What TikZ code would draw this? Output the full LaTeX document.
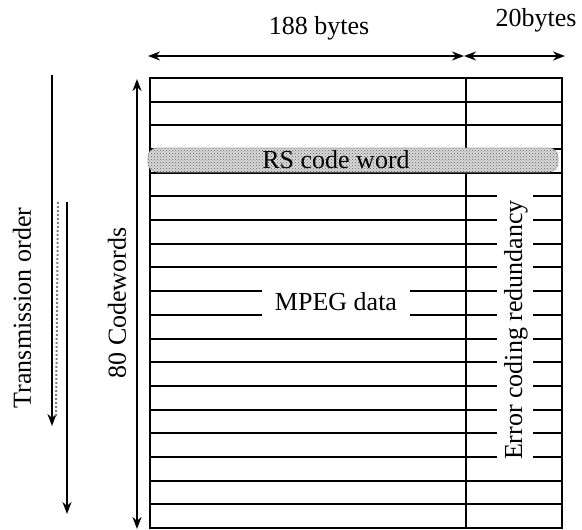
\documentclass[tikz,border=0pt]{standalone}
\usepackage{fontspec}
\setmainfont{Liberation Serif}
\usetikzlibrary{arrows.meta,patterns}
\begin{document}
\begin{tikzpicture}[x=1pt,y=-1pt,
  grid/.style={line width=2pt},
  arr/.style={line width=1.8pt,-{Stealth[length=12pt,width=9pt]}},
  darr/.style={line width=1.8pt,{Stealth[length=12pt,width=9pt]}-{Stealth[length=12pt,width=9pt]}},
  lab/.style={font=\fontsize{26}{30}\selectfont,inner sep=0pt},
  band/.style={fill=gray!30,draw=gray!70,line width=0.6pt,rounded corners=9pt},
  bandtex/.style={pattern=crosshatch dots,pattern color=gray!75!black,rounded corners=9pt}]
\useasboundingbox (0,0) rectangle (582,530);
\def\rh{23.684}
% outer frame and divider
\draw[grid] (150,78) rectangle (562,528);
\draw[grid] (466,78) -- (466,528);
% full row lines
\foreach \i in {1,2,3,4,17,18} {
  \draw[grid] (150,78+\i*\rh) -- (562,78+\i*\rh);
}
% rows 5..16: error column broken around the text
\foreach \i in {5,...,16} {
  \draw[grid] (466,78+\i*\rh) -- (497,78+\i*\rh);
  \draw[grid] (533,78+\i*\rh) -- (562,78+\i*\rh);
}
\foreach \i in {5,6,7,8,11,12,13,14,15,16} {
  \draw[grid] (150,78+\i*\rh) -- (466,78+\i*\rh);
}
\foreach \i in {9,10} {
  \draw[grid] (150,78+\i*\rh) -- (262,78+\i*\rh);
  \draw[grid] (410,78+\i*\rh) -- (466,78+\i*\rh);
}
% RS code word band
\draw[band] (148,148) rectangle (558,172);
\fill[bandtex] (148,148) rectangle (558,172);
\node[lab] (rs) at (336,160) {RS code word};
% labels
\node[lab] (mpeg) at (336,302) {MPEG data};
\node[lab,rotate=90] (ecr) at (516,330) {Error coding redundancy};
\node[lab,rotate=90] (cw) at (117,303) {80 Codewords};
\node[lab,rotate=90] (tx) at (22,308) {Transmission order};
\node[lab] (b188) at (319,28) {188 bytes};
\node[lab] (b20) at (536,20) {20bytes};
% width arrows
\coordinate (h0) at (148,56);
\coordinate (h1) at (464,56);
\coordinate (h2) at (565,56);
\draw[darr] (h0) -- (h1);
\draw[darr] (h1) -- (h2);
% codeword arrow
\coordinate (v0) at (137,79);
\coordinate (v1) at (137,529);
\draw[darr] (v0) -- (v1);
% transmission order arrows
\coordinate (t0) at (52,75);
\coordinate (t1) at (52,426);
\draw[arr] (t0) -- (t1);
\coordinate (d0) at (58,202);
\coordinate (d1) at (56,418);
\draw[gray,line width=2pt,dotted] (d0) -- (d1);
\coordinate (s0) at (67,202);
\coordinate (s1) at (67,514);
\draw[arr] (s0) -- (s1);
\end{tikzpicture}
\end{document}
